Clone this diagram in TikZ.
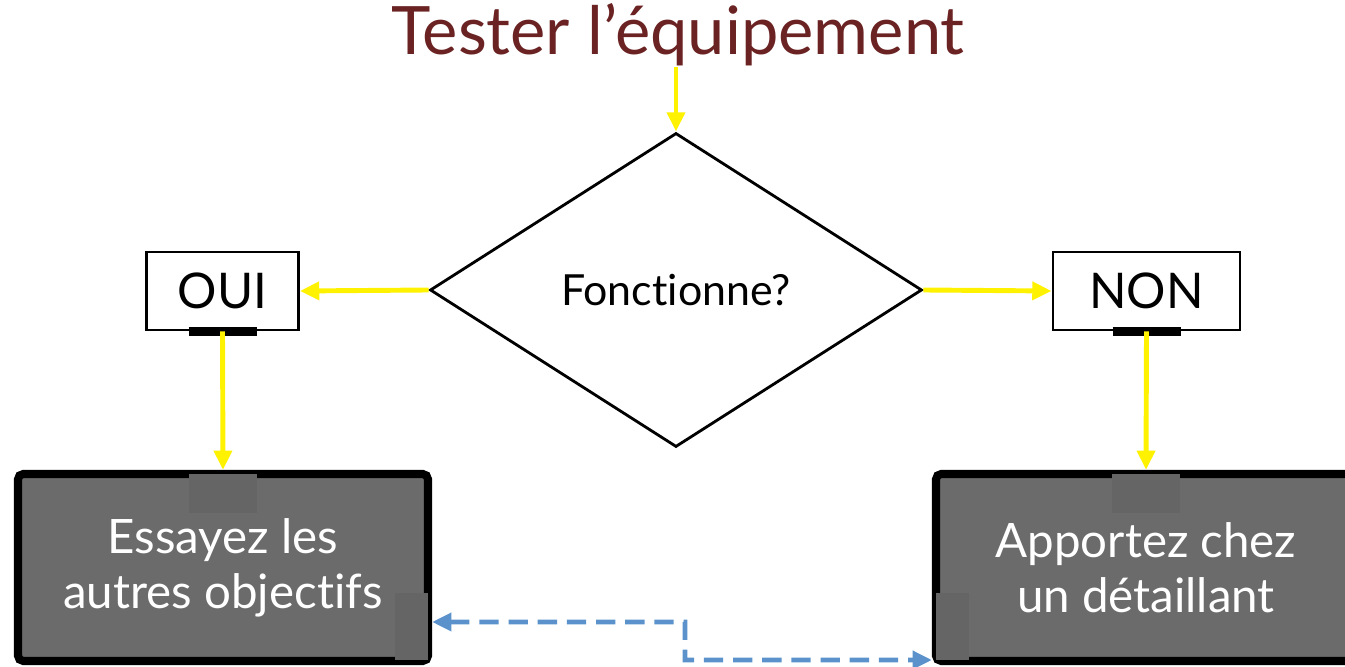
\documentclass[tikz,border=0pt]{standalone}
\usepackage{fontspec}
\setmainfont{Lato}[Ligatures={NoCommon,NoRequired,NoContextual}]
\usepackage{xcolor}
\usetikzlibrary{arrows.meta,shapes.geometric}
\definecolor{titlered}{RGB}{106,34,34}
\definecolor{boxgray}{RGB}{107,107,107}
\definecolor{patchgray}{RGB}{101,101,101}
\definecolor{linkblue}{RGB}{91,146,204}

\begin{document}
\begin{tikzpicture}[>={Triangle[length=5.5pt,width=5pt]},
    yesno/.style={draw, line width=0.8pt, minimum height=0.78cm, font=\fontsize{14}{17}\selectfont},
    bigbox/.style={draw, line width=2.3pt, fill=boxgray, rounded corners=1.5pt, text=white, align=center,
        minimum height=1.87cm, font=\fontsize{13.5}{15.6}\selectfont},
    yarrow/.style={->, yellow, line width=1.4pt},
    barrow/.style={<->, linkblue, line width=1.4pt, dash pattern=on 5.5pt off 2.8pt}]
    \useasboundingbox (0, 0) rectangle (13.45, 6.67);
    \node [text=titlered, inner sep=0pt, font=\fontsize{19}{22}\selectfont] (title) at (6.78, 6.32) {Tester l’équipement};
    \node [draw, diamond, line width=0.8pt, minimum width=4.92cm, minimum height=3.14cm, inner sep=0pt,
        font=\fontsize{12.2}{14}\selectfont] (test) at (6.76, 3.77) {Fonctionne?};
    \node [yesno, minimum width=1.52cm] (oui) at (2.225, 3.76) {OUI};
    \node [yesno, minimum width=1.87cm] (non) at (11.465, 3.76) {NON};
    \node [bigbox, minimum width=4.1cm] (essai) at (2.23, 0.995) {Essayez les\\autres objectifs};
    \node [bigbox, minimum width=4.2cm] (detail) at (11.46, 0.995) {Apportez chez\\un détaillant};
    \fill [patchgray] ([xshift=-0.34cm, yshift=-0.04cm]essai.north) rectangle ([xshift=0.34cm, yshift=-0.43cm]essai.north);
    \fill [patchgray] ([xshift=-0.34cm, yshift=-0.04cm]detail.north) rectangle ([xshift=0.34cm, yshift=-0.43cm]detail.north);
    \fill [patchgray] ([xshift=-0.04cm, yshift=-0.26cm]essai.east) rectangle ([xshift=-0.37cm, yshift=-0.93cm]essai.east);
    \fill [patchgray] ([xshift=0.04cm, yshift=-0.26cm]detail.west) rectangle ([xshift=0.37cm, yshift=-0.93cm]detail.west);
    \draw [line width=2.5pt] ([xshift=-0.34cm]oui.south) -- ([xshift=0.34cm]oui.south);
    \draw [line width=2.5pt] ([xshift=-0.34cm]non.south) -- ([xshift=0.34cm]non.south);
    \draw [yarrow] (title.south -| test.north) -- (test.north);
    \draw [yarrow] (test.west) -- (oui.east);
    \draw [yarrow] (test.east) -- (non.west);
    \draw [yarrow] (oui.south) -- (essai.north);
    \draw [yarrow] (non.south) -- (detail.north);
    \coordinate (bend) at (6.85, 0.07);
    \draw [barrow] ([yshift=-0.545cm]essai.east) -| (bend) -- ([yshift=-0.925cm]detail.west);
\end{tikzpicture}
\end{document}
